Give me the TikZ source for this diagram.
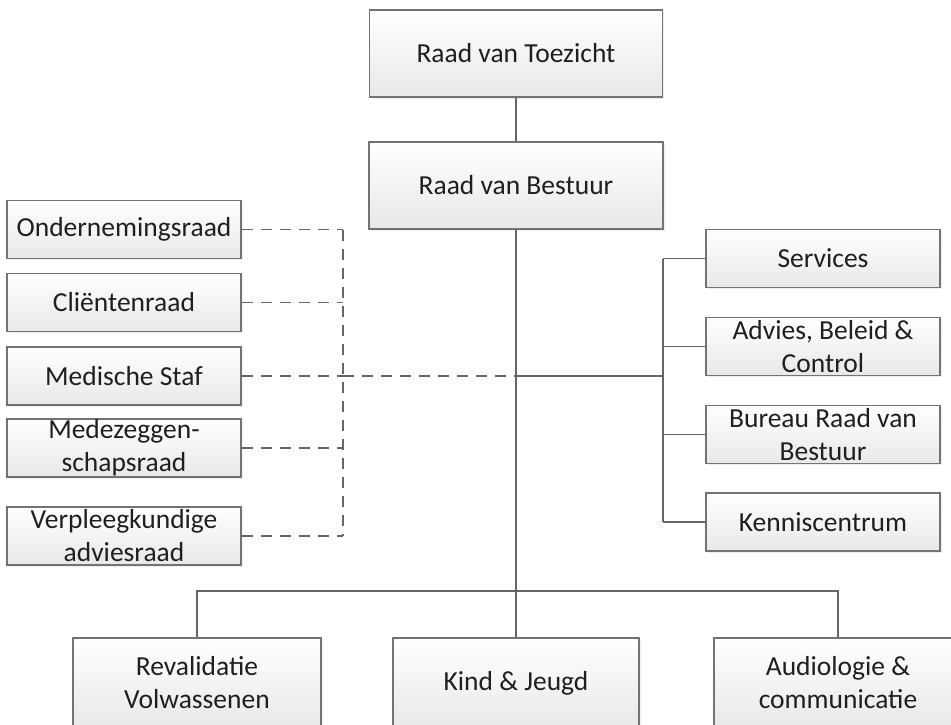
\documentclass[tikz,border=0pt]{standalone}
\usepackage{fontspec}
\setmainfont{Carlito}
\usetikzlibrary{shadows}
\tikzset{
  box/.style={draw=black!55, line width=1.2pt, top color=white, bottom color=black!9,
    drop shadow={opacity=0.12, shadow xshift=1.5pt, shadow yshift=-1.5pt},
    align=center, inner sep=0pt, text=black!88,
    font=\fontsize{27.5}{33}\selectfont, minimum height=58pt},
  link/.style={draw=black!60, line width=1.5pt},
  dashlink/.style={link, dash pattern=on 11pt off 8pt}
}
\begin{document}
\begin{tikzpicture}[x=1pt,y=-1pt]
    \useasboundingbox[fill=white] (0,0) rectangle (951,724);
    \node[box, minimum width=293pt, minimum height=87pt] (toez) at (516,53.5) {Raad van Toezicht};
    \node[box, minimum width=294pt, minimum height=87pt] (best) at (516,185.5) {Raad van Bestuur};
    % advies- en medezeggenschapsorganen
    \node[box, minimum width=234pt] (or) at (124,229.5) {Ondernemingsraad};
    \node[box, minimum width=234pt] (cr) at (124,302.5) {Cliëntenraad};
    \node[box, minimum width=234pt] (ms) at (124,376) {Medische Staf};
    \node[box, minimum width=234pt] (mz) at (124,448) {Medezeggen-\\schapsraad};
    \node[box, minimum width=234pt] (vk) at (124,536) {Verpleegkundige\\adviesraad};
    % staf
    \node[box, minimum width=234pt] (srv) at (823,258.5) {Services};
    \node[box, minimum width=234pt] (abc) at (823,346.5) {Advies, Beleid \&\\Control};
    \node[box, minimum width=234pt] (brb) at (823,434.5) {Bureau Raad van\\Bestuur};
    \node[box, minimum width=234pt] (kc) at (823,522) {Kenniscentrum};
    % divisies
    \node[box, minimum width=248pt, minimum height=90pt] (rv) at (197,683) {Revalidatie\\Volwassenen};
    \node[box, minimum width=246pt, minimum height=90pt] (kj) at (516,683) {Kind \& Jeugd};
    \node[box, minimum width=248pt, minimum height=90pt] (ac) at (838,683) {Audiologie \&\\communicatie};

    \coordinate (ls) at (343,376);
    \coordinate (rs) at (663,376);
    \coordinate (bus) at (516,591);

    \draw[link] (toez) -- (best);
    \draw[link] (best) -- (kj);
    \draw[link] (rv.north) |- (bus) -| (ac.north);
    \draw[link] (best.south |- rs) -- (rs);
    \draw[link] (srv.west -| rs) -- (kc.west -| rs);
    \foreach \n in {srv,abc,brb,kc}
        \draw[link] (\n.west) -- (\n.west -| rs);
    \draw[dashlink] (or.east -| ls) -- (vk.east -| ls);
    \draw[dashlink] (ls) -- (best.south |- ls);
    \foreach \n in {or,cr,ms,mz,vk}
        \draw[dashlink] (\n.east) -- (\n.east -| ls);
\end{tikzpicture}
\end{document}
